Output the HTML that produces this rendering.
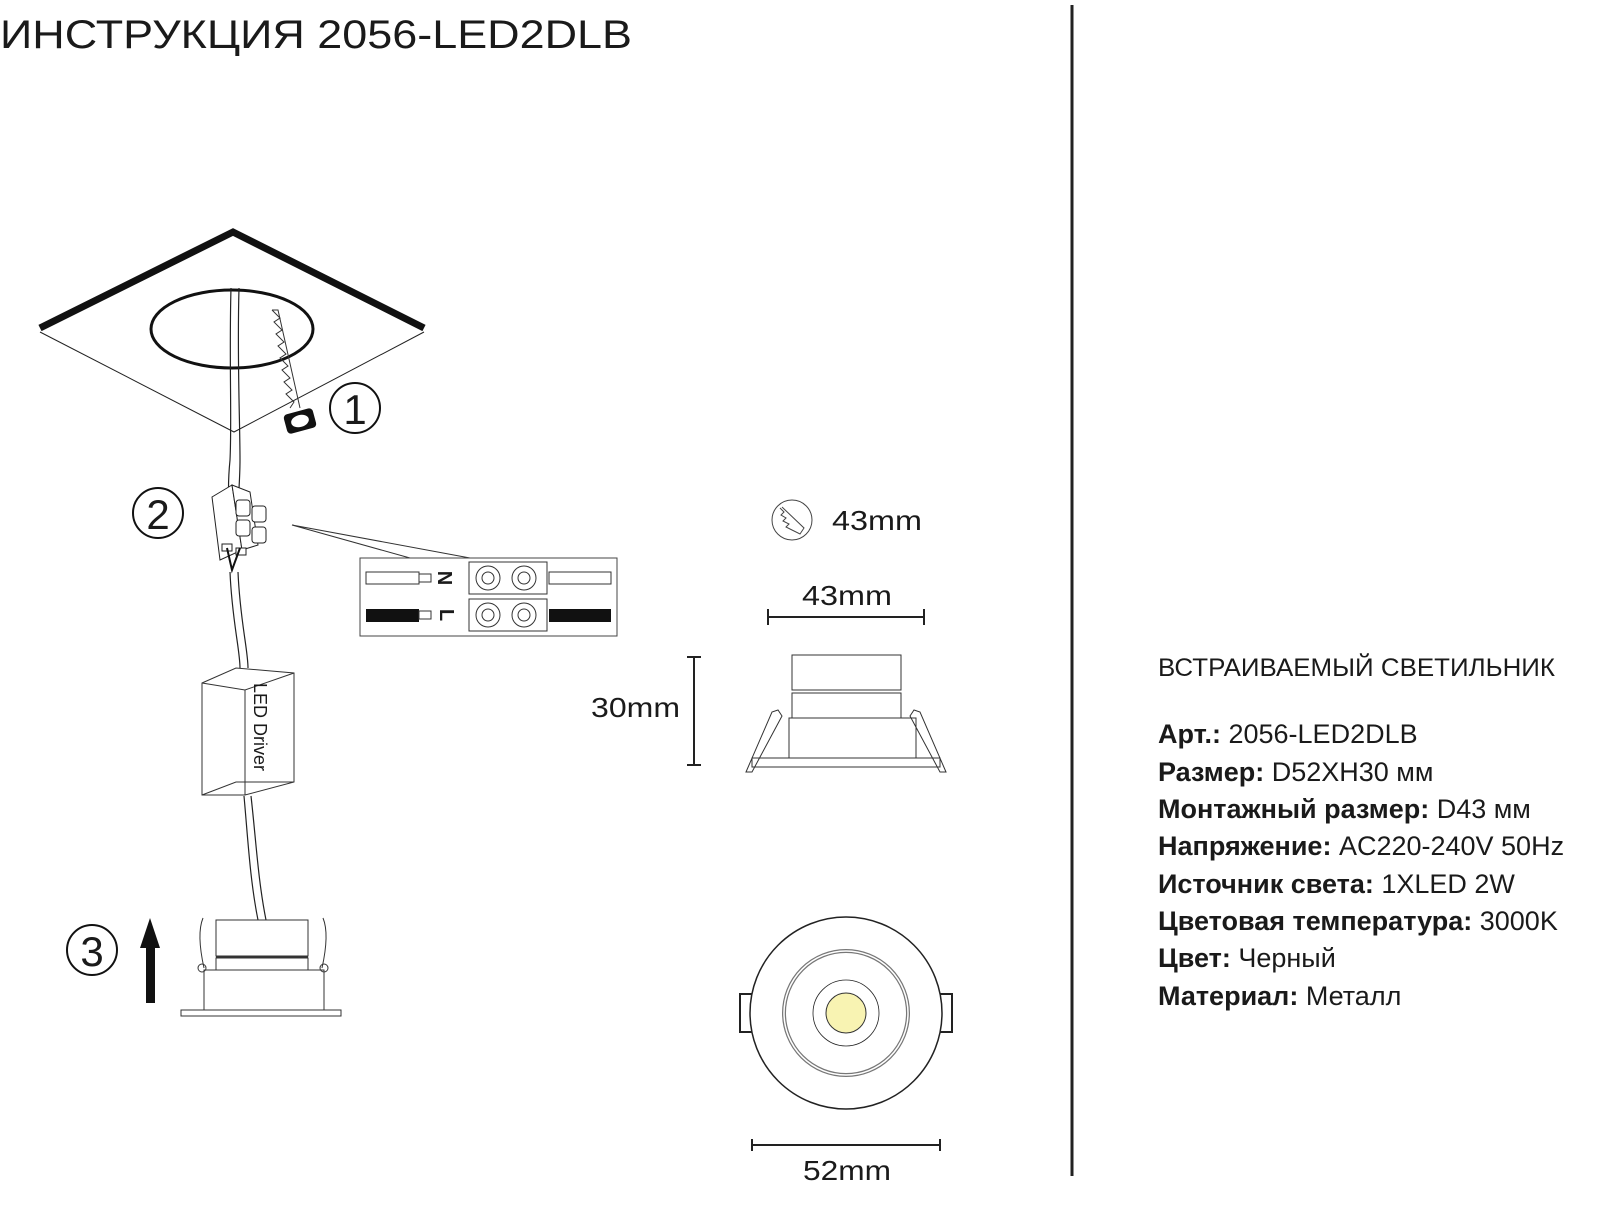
<!DOCTYPE html>
<html><head><meta charset="utf-8"><style>
html,body{margin:0;padding:0;background:#fff;}
svg{display:block;}
text{font-family:"Liberation Sans","DejaVu Sans",sans-serif;fill:#1a1a1a;}
</style></head><body>
<svg width="1600" height="1207" viewBox="0 0 1600 1207" xmlns="http://www.w3.org/2000/svg">
<rect width="1600" height="1207" fill="#fff"/>
<text x="0" y="48" font-size="40" textLength="632" lengthAdjust="spacingAndGlyphs">ИНСТРУКЦИЯ 2056-LED2DLB</text>
<line x1="1072" y1="5" x2="1072" y2="1176" stroke="#222" stroke-width="3"/>

<!-- ceiling -->
<polyline points="40,328 233,232 424,328" fill="none" stroke="#111" stroke-width="7"/>
<polyline points="40,332 234,432 424,332" fill="none" stroke="#222" stroke-width="1"/>
<ellipse cx="232" cy="329" rx="81" ry="39" fill="none" stroke="#111" stroke-width="3"/>
<path d="M231,288 C229,360 232,420 230,460 C228,480 228,500 230,510" fill="none" stroke="#222" stroke-width="1.2"/>
<path d="M239,288 C237,360 240,420 240,460 C240,480 238,500 238,510" fill="none" stroke="#222" stroke-width="1.2"/>
<polyline points="272,310 278,310 300,408" fill="none" stroke="#333" stroke-width="1"/>
<polyline points="272,310 280,318 274,322 282,330 276,334 284,342 278,346 286,354 280,358 288,366 282,370 290,378 284,382 292,390 286,394 294,402 290,408" fill="none" stroke="#333" stroke-width="1"/>
<rect x="285" y="411" width="30" height="20" rx="4" fill="#111" transform="rotate(-15 300 421)"/>
<ellipse cx="300" cy="421" rx="9" ry="6" fill="#fff" transform="rotate(-15 300 421)"/>
<circle cx="355" cy="408" r="25" fill="none" stroke="#111" stroke-width="2"/>
<text x="355" y="424" font-size="42" text-anchor="middle">1</text>

<!-- connector -->
<circle cx="158" cy="513" r="25" fill="none" stroke="#111" stroke-width="2"/>
<text x="158" y="529" font-size="42" text-anchor="middle">2</text>
<g fill="#fff" stroke="#222" stroke-width="1">
<polygon points="212,497 232,485 242,550 220,560"/>
<polygon points="232,485 250,492 258,545 242,550"/>
<rect x="236" y="500" width="14" height="16" rx="3"/>
<rect x="252" y="506" width="14" height="16" rx="3"/>
<rect x="236" y="520" width="14" height="16" rx="3"/>
<rect x="252" y="527" width="14" height="16" rx="3"/>
<rect x="222" y="544" width="10" height="7"/>
<rect x="236" y="548" width="10" height="7"/>
</g>
<path d="M227,548 L232,570 L240,548" fill="none" stroke="#111" stroke-width="2"/>
<path d="M230,572 C232,620 240,650 240,668" fill="none" stroke="#222" stroke-width="1.2"/>
<path d="M238,572 C240,620 248,650 248,668" fill="none" stroke="#222" stroke-width="1.2"/>
<polyline points="410,558 292,525 470,558" fill="none" stroke="#333" stroke-width="1"/>
<rect x="360" y="558" width="257" height="78" fill="#fff" stroke="#444" stroke-width="1"/>
<rect x="366" y="572" width="53" height="12" fill="#fff" stroke="#333"/>
<rect x="419" y="574" width="12" height="8" fill="#fff" stroke="#333"/>
<rect x="366" y="609" width="53" height="13" fill="#111"/>
<rect x="419" y="611" width="12" height="8" fill="#fff" stroke="#333"/>
<text x="445" y="578" font-size="20" font-weight="bold" transform="rotate(90 445 578)" text-anchor="middle" dy="7">N</text>
<text x="447" y="615" font-size="20" font-weight="bold" transform="rotate(90 447 615)" text-anchor="middle" dy="7">L</text>
<rect x="469" y="562" width="78" height="32" fill="#fff" stroke="#333"/>
<rect x="469" y="599" width="78" height="32" fill="#fff" stroke="#333"/>
<g fill="none" stroke="#333"><circle cx="488" cy="578" r="12"/><circle cx="488" cy="578" r="6"/><circle cx="524" cy="578" r="12"/><circle cx="524" cy="578" r="6"/>
<circle cx="488" cy="615" r="12"/><circle cx="488" cy="615" r="6"/><circle cx="524" cy="615" r="12"/><circle cx="524" cy="615" r="6"/></g>
<rect x="549" y="572" width="62" height="12" fill="#fff" stroke="#333"/>
<rect x="549" y="609" width="62" height="13" fill="#111"/>

<!-- driver -->
<g fill="#fff" stroke="#333" stroke-width="1">
<polygon points="202,683 236,668 294,673 294,782 245,795 202,795"/>
<polyline points="202,683 245,690 294,673" fill="none"/>
<line x1="245" y1="690" x2="245" y2="795"/>
<polyline points="202,795 236,782 294,782" fill="none"/>
</g>
<text x="254" y="683" font-size="18" transform="rotate(90 254 683)">LED  Driver</text>
<path d="M244,796 C248,840 250,880 258,920" fill="none" stroke="#222" stroke-width="1.2"/>
<path d="M251,796 C256,840 258,880 266,920" fill="none" stroke="#222" stroke-width="1.2"/>

<!-- step 3 lamp -->
<circle cx="92" cy="950" r="25" fill="none" stroke="#111" stroke-width="2"/>
<text x="92" y="966" font-size="42" text-anchor="middle">3</text>
<rect x="146" y="945" width="9" height="58" fill="#111"/>
<polygon points="150,918 140,948 160,948" fill="#111"/>
<g fill="none" stroke="#333" stroke-width="1">
<rect x="216" y="920" width="92" height="36"/>
<line x1="216" y1="957" x2="308" y2="957" stroke-width="2"/>
<rect x="216" y="958" width="92" height="12"/>
<rect x="204" y="970" width="120" height="40"/>
<rect x="181" y="1010" width="160" height="6"/>
<path d="M204,968 C200,950 198,930 203,918"/>
<path d="M322,968 C326,950 328,930 323,918"/>
<circle cx="202" cy="968" r="4"/><circle cx="324" cy="968" r="4"/>
</g>

<!-- right dims -->
<circle cx="792" cy="520" r="20" fill="none" stroke="#444" stroke-width="1"/>
<polyline points="780,508 784,512 781,515 786,518 783,521 789,524 786,527 792,530 800,534 804,528 782,507" fill="none" stroke="#444" stroke-width="1"/>
<text x="832" y="530" font-size="28" textLength="90" lengthAdjust="spacingAndGlyphs">43mm</text>
<text x="802" y="605" font-size="28" textLength="90" lengthAdjust="spacingAndGlyphs">43mm</text>
<g stroke="#222" stroke-width="2">
<line x1="768" y1="617" x2="924" y2="617"/><line x1="768" y1="609" x2="768" y2="625"/><line x1="924" y1="609" x2="924" y2="625"/>
<line x1="694" y1="657" x2="694" y2="765"/><line x1="687" y1="657" x2="701" y2="657"/><line x1="687" y1="765" x2="701" y2="765"/>
<line x1="752" y1="1145" x2="940" y2="1145"/><line x1="752" y1="1139" x2="752" y2="1151"/><line x1="940" y1="1139" x2="940" y2="1151"/>
</g>
<text x="591" y="717" font-size="28" textLength="89" lengthAdjust="spacingAndGlyphs">30mm</text>
<text x="803" y="1180" font-size="28" textLength="88" lengthAdjust="spacingAndGlyphs">52mm</text>
<g fill="none" stroke="#333" stroke-width="1">
<rect x="792" y="655" width="109" height="35"/>
<rect x="792" y="693" width="109" height="25"/>
<rect x="789" y="718" width="127" height="40"/>
<rect x="752" y="758" width="188" height="9"/>
<path d="M746,772 L772,712 L778,710 L782,716 L752,772 Z"/>
<path d="M946,772 L920,712 L914,710 L910,716 L940,772 Z"/>
</g>
<!-- top view -->
<g fill="none" stroke="#222">
<path d="M752,994 L740,994 L740,1032 L752,1032" stroke-width="2"/>
<path d="M940,994 L952,994 L952,1032 L940,1032" stroke-width="2"/>
<circle cx="846" cy="1013" r="96" stroke-width="1.5" fill="#fff"/>
<circle cx="846" cy="1013" r="62" stroke="#777" stroke-width="4"/>
<circle cx="846" cy="1013" r="62" stroke="#fff" stroke-width="1.5"/>
<circle cx="846" cy="1013" r="33" stroke-width="0.8"/>
</g>
<ellipse cx="846" cy="1013" rx="20" ry="20" fill="#f8f3b2" stroke="#333" stroke-width="1"/>

<!-- specs -->
<text x="1158" y="676" font-size="25" textLength="397" lengthAdjust="spacingAndGlyphs">ВСТРАИВАЕМЫЙ СВЕТИЛЬНИК</text>
<g font-size="27">
<text x="1158" y="743"><tspan font-weight="bold">Арт.:</tspan> 2056-LED2DLB</text>
<text x="1158" y="781"><tspan font-weight="bold">Размер:</tspan> D52XH30 мм</text>
<text x="1158" y="818"><tspan font-weight="bold">Монтажный размер:</tspan> D43 мм</text>
<text x="1158" y="855"><tspan font-weight="bold">Напряжение:</tspan> AC220-240V 50Hz</text>
<text x="1158" y="893"><tspan font-weight="bold">Источник света:</tspan> 1XLED 2W</text>
<text x="1158" y="930"><tspan font-weight="bold">Цветовая температура:</tspan> 3000K</text>
<text x="1158" y="967"><tspan font-weight="bold">Цвет:</tspan> Черный</text>
<text x="1158" y="1005"><tspan font-weight="bold">Материал:</tspan> Металл</text>
</g>
</svg>
</body></html>
